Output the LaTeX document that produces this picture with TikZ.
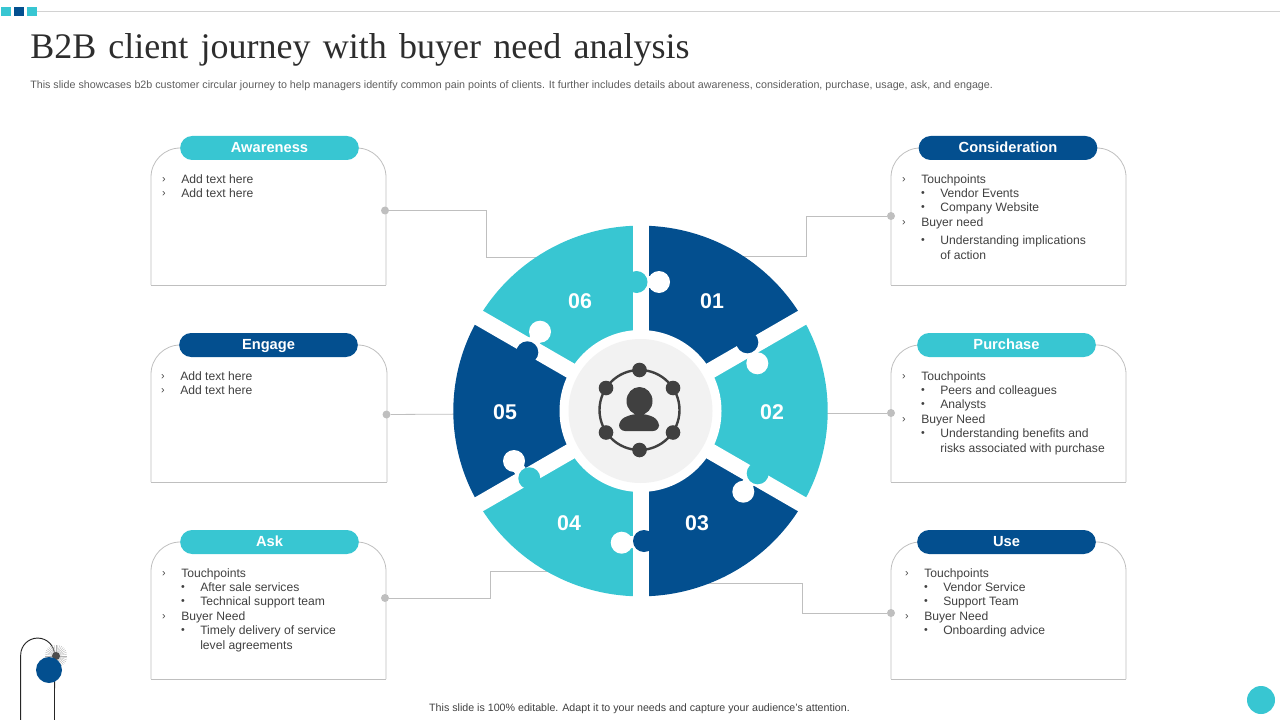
\documentclass[tikz,border=0pt]{standalone}
\usepackage{xcolor}
\usepackage{fontspec}
\setmainfont{Liberation Sans}
\newfontfamily\titlefont[WordSpace=1.36]{Liberation Serif}
\definecolor{cian}{HTML}{38C6D2}
\definecolor{ocean}{HTML}{034F8F}
\definecolor{ink}{HTML}{404040}
\definecolor{rim}{HTML}{BFBFBF}
\tikzset{
  cardline/.style={draw=rim, line width=0.6pt},
  wire/.style={draw=rim, line width=0.6pt},
  pin/.style={circle, fill=rim, inner sep=0pt, minimum size=6pt},
  pill/.style={rounded corners=9pt, minimum width=134pt, minimum height=18pt, inner sep=0pt, text height=8.6pt, text depth=1.6pt, text=white, font=\fontsize{11}{13}\selectfont\bfseries},
  txt/.style={anchor=west, inner sep=0pt, yshift=-0.75pt, text height=7pt, text depth=2pt, text=ink, font=\fontsize{9.1}{11}\selectfont},
  chev/.style={inner sep=0pt, yshift=-0.6pt, text=ink, font=\fontsize{8}{10}\selectfont},
  bul/.style={inner sep=0pt, yshift=-0.5pt, text=ink, font=\fontsize{8}{10}\selectfont},
  numb/.style={inner sep=0pt, text=white, font=\fontsize{16}{18}\selectfont\bfseries}
}
\begin{document}
\begin{tikzpicture}[x=0.75pt, y=-0.75pt]
    \useasboundingbox (0,0) rectangle (1280,720);
    % Top strip
    \draw[rim!70, line width=0.6pt] (37,11.5) -- (1280,11.5);
    \fill[cian] (1,7) rectangle (11,16);
    \fill[ocean] (14,7) rectangle (24,16);
    \fill[cian] (27,7) rectangle (37,16);
    % Title
    \node[anchor=base west, inner sep=0pt, text=ink!70!black, font=\titlefont\fontsize{27}{30}\selectfont] (title) at (30,59) {B2B client journey with buyer need analysis};
    \node[anchor=west, inner sep=0pt, text=ink!85, font=\fontsize{8.04}{10}\selectfont] (sub) at (30,85.5) {This slide showcases b2b customer circular journey to help managers identify common pain points of clients. It further includes details about awareness, consideration, purchase, usage, ask, and engage.};
    % Cards
    \foreach \xa/\xb/\ya/\yb in {151/386/148/285, 891/1126/148/285, 151/387/345/482, 891/1126/345/482, 151/386/542/679, 891/1126/542/679}{
        \draw[cardline, rounded corners=22pt] (\xa,\yb) -- (\xa,\ya) -- (\xb,\ya) -- (\xb,\yb);
        \draw[cardline] (\xa,\yb) -- (\xb,\yb);
    }
    \node[pill, fill=cian] (awareness) at (269.5,148) {Awareness};
    \node[pill, fill=ocean] (consideration) at (1008,148) {Consideration};
    \node[pill, fill=ocean] (engage) at (268.5,345) {Engage};
    \node[pill, fill=cian] (purchase) at (1006.5,345) {Purchase};
    \node[pill, fill=cian] (ask) at (269.5,542) {Ask};
    \node[pill, fill=ocean] (use) at (1006.5,542) {Use};
    % Connectors
    \node[pin] (pinA) at (385,210.5) {};
    \node[pin] (pinB) at (891,216) {};
    \node[pin] (pinC) at (386.5,414.5) {};
    \node[pin] (pinD) at (891,413) {};
    \node[pin] (pinE) at (385,598) {};
    \node[pin] (pinF) at (891,613) {};
    \coordinate (endA) at (560,257);
    \coordinate (endB) at (730,256);
    \coordinate (endC) at (480,414);
    \coordinate (endD) at (800,413);
    \coordinate (endE) at (560,571);
    \coordinate (endF) at (700,583);
    \draw[wire] (pinA) -| (486.5,257) -- (endA);
    \draw[wire] (pinB) -| (806.5,256) -- (endB);
    \draw[wire] (pinC) -- (endC);
    \draw[wire] (pinD) -- (endD);
    \draw[wire] (pinE) -| (490.5,571) -- (endE);
    \draw[wire] (pinF) -| (802.5,583) -- (endF);
    % Wheel
    \coordinate (hub) at (640.5,411);
    \foreach \a/\c in {90/ocean, 30/cian, -30/ocean, -90/cian, -150/ocean, -210/cian}{
        \fill[\c] (hub) -- +(\a:140.4pt and 139pt) arc[start angle=\a, end angle=\a-60, x radius=140.4pt, y radius=139pt] -- cycle;
    }
    \foreach \a in {90,30,-30,-90,-150,-210}{
        \draw[white, line width=12pt] (hub) -- +(\a:143pt);
    }
    % Puzzle tabs
    \foreach \x/\y/\u/\v in {659/282/646/282, 757.3/363.3/751/352, 743.3/491.7/750/480, 621.7/542.7/634/542, 514/461/521/472, 540/331.7/533/343}{
        \draw[white, line width=9pt] (\u,\v) -- (\x,\y);
        \fill[white] (\x,\y) circle (11);
    }
    \foreach \x/\y/\c in {636.5/282/cian, 747.3/342.3/ocean, 757.7/473.3/cian, 644/541/ocean, 529.3/478.3/cian, 527.3/352.3/ocean}{
        \fill[\c] (\x,\y) circle (11);
    }
    % Centre
    \fill[white] (hub) circle (81);
    \fill[black!5] (hub) circle (72);
    \draw[ink, line width=1.8pt] (639.5,410) circle (40);
    \foreach \x/\y in {639.5/370, 673/388, 673/432.5, 639.5/450, 606/388, 606/432.5}{
        \fill[ink] (\x,\y) circle (7.3);
    }
    \fill[ink] (639.5,401) ellipse [x radius=13, y radius=14];
    \fill[ink, rounded corners=4.5pt] (619,431) -- (619,420) -- (632,414) -- (647,414) -- (659,420) -- (659,431) -- cycle;
    % Numbers
    \node[numb] (n1) at (712,301) {01};
    \node[numb] (n2) at (772,412.5) {02};
    \node[numb] (n3) at (697,523.5) {03};
    \node[numb] (n4) at (569,523.5) {04};
    \node[numb] (n5) at (505,412.5) {05};
    \node[numb] (n6) at (580,301) {06};
    % Card markers
    \foreach \x/\y in {164/179, 164/193, 904/179, 904/222, 163/376, 163/390, 904/376, 904/419, 164/573, 164/616, 907/573, 907/616}{
        \node[chev] at (\x,\y) {›};
    }
    \foreach \x/\y in {923/193, 923/207, 923/240, 923/390, 923/404, 923/433, 183/587, 183/601, 183/630, 926/587, 926/601, 926/630}{
        \node[bul] at (\x,\y) {•};
    }
    % Awareness text
    \node[txt] (a1) at (181,179) {Add text here};
    \node[txt] (a2) at (181,193) {Add text here};
    % Consideration text
    \node[txt] (c1) at (921,179) {Touchpoints};
    \node[txt] (c2) at (940,193) {Vendor Events};
    \node[txt] (c3) at (940,207) {Company Website};
    \node[txt] (c4) at (921,222) {Buyer need};
    \node[txt] (c5) at (940,240) {Understanding implications};
    \node[txt] (c6) at (940,255) {of action};
    % Engage text
    \node[txt] (e1) at (180,376) {Add text here};
    \node[txt] (e2) at (180,390) {Add text here};
    % Purchase text
    \node[txt] (p1) at (921,376) {Touchpoints};
    \node[txt] (p2) at (940,390) {Peers and colleagues};
    \node[txt] (p3) at (940,404) {Analysts};
    \node[txt] (p4) at (921,419) {Buyer Need};
    \node[txt] (p5) at (940,433) {Understanding benefits and};
    \node[txt] (p6) at (940,448) {risks associated with purchase};
    % Ask text
    \node[txt] (k1) at (181,573) {Touchpoints};
    \node[txt] (k2) at (200,587) {After sale services};
    \node[txt] (k3) at (200,601) {Technical support team};
    \node[txt] (k4) at (181,616) {Buyer Need};
    \node[txt] (k5) at (200,630) {Timely delivery of service};
    \node[txt] (k6) at (200,645) {level agreements};
    % Use text
    \node[txt] (u1) at (924,573) {Touchpoints};
    \node[txt] (u2) at (943,587) {Vendor Service};
    \node[txt] (u3) at (943,601) {Support Team};
    \node[txt] (u4) at (924,616) {Buyer Need};
    \node[txt] (u5) at (943,630) {Onboarding advice};
    % Footer
    \node[inner sep=0pt, text=ink, font=\fontsize{8}{10}\selectfont] (foot) at (639.5,709) {This slide is 100\% editable. Adapt it to your needs and capture your audience's attention.};
    % Corner marks
    \draw[black!85, line width=0.7pt] (20.7,720) -- (20.7,655) arc[start angle=180, end angle=0, radius=12.7pt] -- (54.5,720);
    \foreach \a in {0,10,...,350}{
        \draw[black!30, line width=0.25pt] (56,656) -- +(\a:8.5pt);
    }
    \fill[black!70] (56,656) circle (4);
    \fill[ocean] (49,670) circle (13);
    \fill[cian] (1261,700) circle (14);
\end{tikzpicture}
\end{document}
